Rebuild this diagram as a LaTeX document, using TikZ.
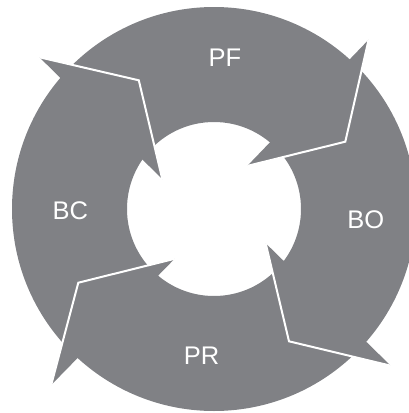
\documentclass[tikz,border=0pt]{standalone}
\usepackage{fontspec}
\setmainfont{Liberation Sans}
\definecolor{ringgray}{RGB}{128,129,133}
\tikzset{
  ringfill/.style={fill=ringgray},
  gapline/.style={draw=white, line width=2pt, line join=miter},
  cyclelabel/.style={text=white, inner sep=0pt, font=\fontsize{25.5}{30}\selectfont}
}
\begin{document}
\begin{tikzpicture}[x=1pt, y=-1pt]
  \useasboundingbox (0,0) rectangle (409,413);
  \coordinate (c) at (214,209);

  % ring
  \fill[ringfill, even odd rule] (c) circle[radius=202pt] (c) circle[radius=87pt];

  % arrow heads: outer barb, tip, inner barb
  \coordinate (bcO) at (39.5,57.3);   \coordinate (bcP) at (138.8,80.3);  \coordinate (bcI) at (162.3,179.2);
  \coordinate (pfO) at (368.6,39.7);  \coordinate (pfP) at (345.3,141.7); \coordinate (pfI) at (247.3,165.9);
  \coordinate (boO) at (390.7,365.7); \coordinate (boP) at (289.0,341.3); \coordinate (boI) at (265.7,243.3);
  \coordinate (prO) at (51.2,385.0);  \coordinate (prP) at (78.3,282.7);  \coordinate (prI) at (174.6,258.8);

  \foreach \h in {bc,pf,bo,pr}{
    \fill[ringfill] (\h O) -- (\h P) -- (\h I) -- cycle;
    \draw[gapline] (\h O) -- (\h P) -- (\h I);
  }

  % labels
  \node[cyclelabel] (pf) at (225,58) {PF};
  \node[cyclelabel] (bo) at (365.7,219.7) {BO};
  \node[cyclelabel] (pr) at (201.5,355.7) {PR};
  \node[cyclelabel] (bc) at (70.3,210.8) {BC};
\end{tikzpicture}
\end{document}
